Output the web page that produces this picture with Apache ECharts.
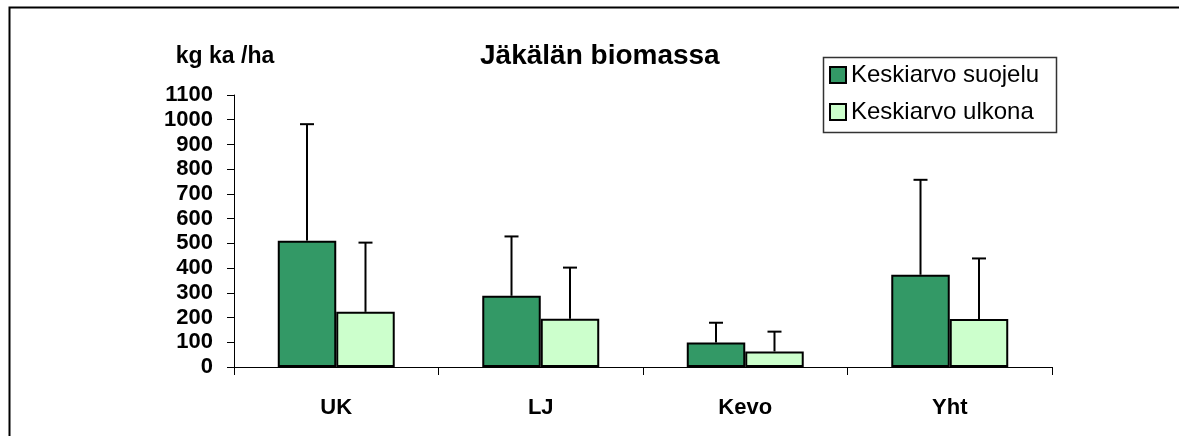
<!DOCTYPE html>
<html>
<head>
<meta charset="utf-8">
<script src="https://cdn.jsdelivr.net/npm/echarts@6/dist/echarts.min.js"></script>
<style>
html,body{margin:0;padding:0;background:#fff;}
#chart{width:1179px;height:436px;}
</style>
</head>
<body>
<div id="chart"></div>
<script>
const categories = ['UK', 'LJ', 'Kevo', 'Yht'];
const seriesNames = ['Keskiarvo suojelu', 'Keskiarvo ulkona'];
const meanSuojelu = [511, 288, 99, 373];
const meanUlkona = [223, 195, 63, 194];
const errSuojelu = [471, 240, 80, 384];
const errUlkona = [280, 207, 80, 245];
const yTicks = [0, 100, 200, 300, 400, 500, 600, 700, 800, 900, 1000, 1100];

const FONT = "'Liberation Sans', Arial, sans-serif";
const chart = echarts.init(document.getElementById('chart'), null, {renderer: 'canvas'});

function errorSeries(name, means, errs, side) {
  return {
    type: 'custom',
    name: name + ' err',
    z: 5,
    silent: true,
    data: means.map((m, i) => [i, m, m + errs[i]]),
    renderItem: function (params, api) {
      const i = api.value(0);
      const band = api.size([1, 0])[0];
      const off = side * band * 0.143;
      const p0 = api.coord([i, api.value(1)]);
      const p1 = api.coord([i, api.value(2)]);
      const x = p0[0] + off;
      const cap = 7;
      const st = {stroke: '#000', lineWidth: 2};
      return {
        type: 'group',
        children: [
          {type: 'line', shape: {x1: x, y1: p0[1], x2: x, y2: p1[1]}, style: st},
          {type: 'line', shape: {x1: x - cap, y1: p1[1], x2: x + cap, y2: p1[1]}, style: st}
        ]
      };
    }
  };
}

const option = {
  backgroundColor: '#fff',
  animation: false,
  title: {
    text: 'Jäkälän biomassa',
    left: 480,
    top: 42,
    padding: 0,
    textStyle: {fontFamily: FONT, fontSize: 28, fontWeight: 'bold', color: '#000'}
  },
  legend: {
    data: seriesNames,
    orient: 'vertical',
    left: 829,
    top: 63,
    padding: 0,
    itemWidth: 16,
    itemHeight: 16,
    itemGap: 13,
    icon: 'rect',
    textStyle: {fontFamily: FONT, fontSize: 24, color: '#000', padding: [0, 0, 0, 0]}
  },
  grid: {left: 234, right: 127, top: 95, bottom: 69, containLabel: false},
  xAxis: {
    type: 'category',
    data: categories,
    axisLine: {lineStyle: {color: '#000', width: 1}},
    axisTick: {show: true, length: 8, lineStyle: {color: '#000'}},
    axisLabel: {fontFamily: FONT, fontSize: 22, fontWeight: 'bold', color: '#000', margin: 30}
  },
  yAxis: {
    type: 'value',
    min: 0,
    max: 1100,
    interval: 100,
    name: 'kg ka /ha',
    nameLocation: 'end',
    nameGap: 27,
    nameTextStyle: {fontFamily: FONT, fontSize: 23, fontWeight: 'bold', color: '#000', padding: [0, 18, 0, 0]},
    splitLine: {show: false},
    axisLine: {show: true, lineStyle: {color: '#000', width: 1}},
    axisTick: {show: true, length: 7, lineStyle: {color: '#000'}},
    axisLabel: {
      fontFamily: FONT, fontSize: 22, fontWeight: 'bold', color: '#000', margin: 21,
      formatter: function (v) { return yTicks.indexOf(v) >= 0 ? String(v) : ''; }
    }
  },
  graphic: [
    {type: 'rect', left: 7, top: 5, z: 100, silent: true,
     shape: {x: 0, y: 0, width: 1200, height: 500},
     style: {fill: 'none', stroke: '#000', lineWidth: 2}},
    {type: 'rect', left: 821, top: 55, z: 100, silent: true,
     shape: {x: 0, y: 0, width: 233, height: 75},
     style: {fill: 'none', stroke: '#333', lineWidth: 1.5}}
  ],
  series: [
    {
      type: 'bar', name: seriesNames[0], data: meanSuojelu,
      barWidth: '28.6%', barGap: '0%',
      itemStyle: {color: '#339966', borderColor: '#000', borderWidth: 2}
    },
    {
      type: 'bar', name: seriesNames[1], data: meanUlkona,
      barWidth: '28.6%', barGap: '0%',
      itemStyle: {color: '#CCFFCC', borderColor: '#000', borderWidth: 2}
    },
    errorSeries(seriesNames[0], meanSuojelu, errSuojelu, -1),
    errorSeries(seriesNames[1], meanUlkona, errUlkona, 1)
  ]
};
chart.setOption(option);
</script>
</body>
</html>
